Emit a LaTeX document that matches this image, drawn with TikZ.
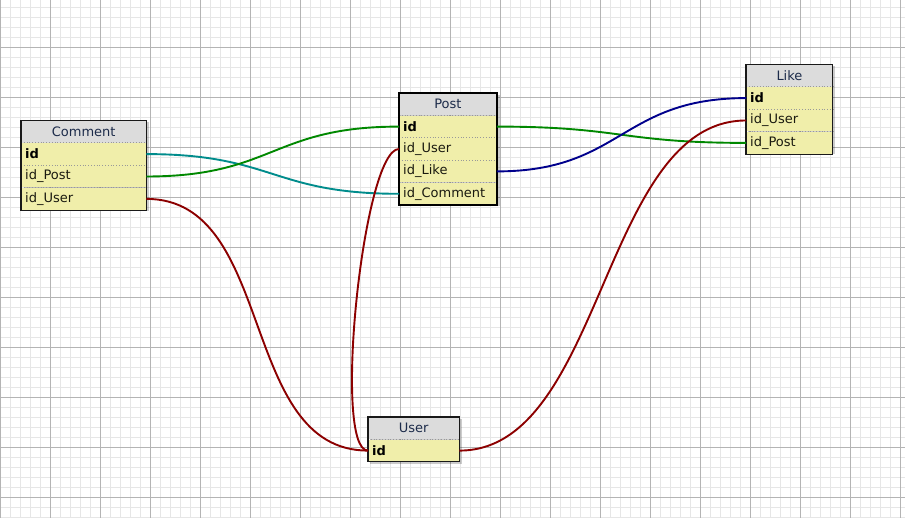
\documentclass[tikz,border=0pt]{standalone}
\usepackage{fontspec}
\setmainfont{DejaVu Sans}
\begin{document}
\definecolor{gridminor}{HTML}{E6E6E6}
\definecolor{gridmajor}{HTML}{B4B4B4}
\definecolor{hdrgray}{HTML}{DCDCDC}
\definecolor{fldyellow}{HTML}{F0EEAA}
\definecolor{hdrtext}{HTML}{1C2B4A}
\definecolor{fldtext}{HTML}{1A1A10}
\definecolor{linkteal}{HTML}{008C8C}
\definecolor{linkgreen}{HTML}{008800}
\definecolor{linkblue}{HTML}{00008C}
\definecolor{linkred}{HTML}{8C0000}
\begin{tikzpicture}[x=1pt,y=-1pt,
  hdr/.style={fill=hdrgray, anchor=north west, minimum height=22pt, inner sep=0pt,
    text=hdrtext, font=\fontsize{13}{15}\selectfont, minimum width=#1},
  fld/.style={fill=fldyellow, anchor=north west, minimum height=22pt, inner xsep=4pt,
    inner ysep=0pt, text width=#1-8pt, align=left, text=fldtext,
    font=\fontsize{13}{15}\selectfont},
  pk/.style={font=\fontsize{13}{15}\selectfont\bfseries, text=black},
  sep/.style={draw=gray!80, dotted, line width=0.8pt},
  frame/.style={draw=black!90, line width=1.1pt},
  boldframe/.style={draw=black, line width=2pt},
  shadowbox/.style={fill=black, opacity=0.2},
  link/.style={line width=1.9pt},
]
% paper and grid
\useasboundingbox (0,0) rectangle (905,518);
\fill[white] (0,0) rectangle (905,518);
\foreach \x in {0,10,...,900} \draw[gridminor, line width=1pt] (\x,0) -- (\x,518);
\foreach \y in {7.5,17.5,...,517.5} \draw[gridminor, line width=1pt] (0,\y) -- (905,\y);
\foreach \x in {0,50,...,900} \draw[gridmajor, line width=1pt] (\x,0) -- (\x,518);
\foreach \y in {47.5,97.5,...,497.5} \draw[gridmajor, line width=1pt] (0,\y) -- (905,\y);

% shadows
\fill[shadowbox] (23.5,122.5) rectangle (149,211);
\fill[shadowbox] (401,95) rectangle (499.5,206.5);
\fill[shadowbox] (748,66.5) rectangle (835,154.5);
\fill[shadowbox] (370,419) rectangle (461.5,463.5);

% Comment table
\node[hdr=125pt] (comment) at (21,120.5) {Comment};
\node[fld=125pt, pk] (comment-id) at (comment.south west) {id};
\node[fld=125pt] (comment-idpost) at (comment-id.south west) {id\_Post};
\node[fld=125pt] (comment-iduser) at (comment-idpost.south west) {id\_User};
\foreach \r in {comment-id,comment-idpost,comment-iduser}
  \draw[sep] (\r.north west) -- (\r.north east);
\draw[frame] (comment.north west) rectangle (comment-iduser.south east);

% Post table
\node[hdr=97.5pt] (post) at (399,93) {Post};
\node[fld=97.5pt, pk] (post-id) at (post.south west) {id};
\node[fld=97.5pt] (post-iduser) at (post-id.south west) {id\_User};
\node[fld=97.5pt] (post-idlike) at (post-iduser.south west) {id\_Like};
\node[fld=97.5pt] (post-idcomment) at (post-idlike.south west) {id\_Comment};
\foreach \r in {post-id,post-iduser,post-idlike,post-idcomment}
  \draw[sep] (\r.north west) -- (\r.north east);
\draw[boldframe] (post.north west) rectangle (post-idcomment.south east);

% Like table
\node[hdr=86.5pt] (like) at (746,64.5) {Like};
\node[fld=86.5pt, pk] (like-id) at (like.south west) {id};
\node[fld=86.5pt] (like-iduser) at (like-id.south west) {id\_User};
\node[fld=86.5pt] (like-idpost) at (like-iduser.south west) {id\_Post};
\foreach \r in {like-id,like-iduser,like-idpost}
  \draw[sep] (\r.north west) -- (\r.north east);
\draw[frame] (like.north west) rectangle (like-idpost.south east);

% User table
\node[hdr=91pt] (user) at (368,417) {User};
\node[fld=91pt, pk] (user-id) at (user.south west) {id};
\draw[sep] (user-id.north west) -- (user-id.north east);
\draw[frame] (user.north west) rectangle (user-id.south east);

% relations
\draw[link, linkteal] (comment-id.east) .. controls +(127,0) and +(-127,0) .. (post-idcomment.west);
\draw[link, linkgreen] (comment-idpost.east) .. controls +(127,0) and +(-127,0) .. (post-id.west);
\draw[link, linkred] (comment-iduser.east) .. controls +(130,0) and +(-130,0) .. (user-id.west);
\draw[link, linkred] (post-iduser.west) .. controls +(-36,0) and +(-36,0) .. (user-id.west);
\draw[link, linkgreen] (post-id.east) .. controls +(125,0) and +(-125,0) .. (like-idpost.west);
\draw[link, linkblue] (post-idlike.east) .. controls +(125,0) and +(-125,0) .. (like-id.west);
\draw[link, linkred] (user-id.east) .. controls +(144,0) and +(-144,0) .. (like-iduser.west);
\end{tikzpicture}
\end{document}
